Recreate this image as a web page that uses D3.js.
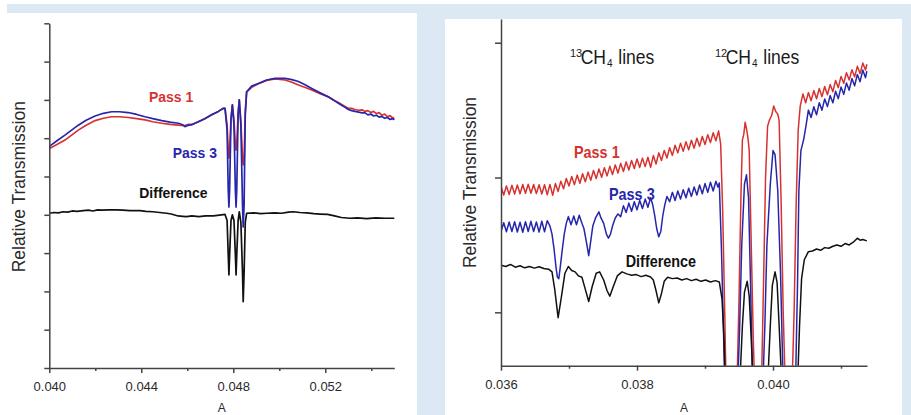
<!DOCTYPE html>
<html>
<head>
<meta charset="utf-8">
<script src="https://cdn.jsdelivr.net/npm/d3@7"></script>
<style>
body { margin: 0; background: #fff; }
svg { display: block; font-family: "Liberation Sans", Arial, sans-serif; }
</style>
</head>
<body>
<svg id="chart"></svg>
<script>
// ---------------- data (x = A, y = relative transmission, arbitrary units) ----------------
const pass1Left = [
  [0.04000, 5.73], [0.04003, 5.74], [0.04035, 5.84], [0.04068, 5.95], [0.04097, 6.08], [0.04126, 6.21],
  [0.04160, 6.34], [0.04199, 6.46], [0.04235, 6.52], [0.04271, 6.56], [0.04305, 6.56], [0.04343, 6.54],
  [0.04380, 6.51], [0.04416, 6.48], [0.04450, 6.43], [0.04489, 6.39], [0.04525, 6.36], [0.04561, 6.34],
  [0.04590, 6.33], [0.04605, 6.36], [0.04620, 6.35], [0.04648, 6.43], [0.04675, 6.50], [0.04706, 6.61],
  [0.04735, 6.70], [0.04757, 6.78], [0.04764, 6.78], [0.04773, 6.34], [0.04778, 5.69], [0.04781, 5.48],
  [0.04784, 5.69], [0.04790, 6.52], [0.04796, 6.87], [0.04803, 6.48], [0.04809, 5.82], [0.04812, 5.69],
  [0.04815, 5.82], [0.04821, 6.69], [0.04826, 7.00], [0.04833, 6.43], [0.04840, 5.48], [0.04843, 5.30],
  [0.04847, 5.48], [0.04852, 6.69], [0.04858, 7.21], [0.04880, 7.33], [0.04909, 7.42], [0.04945, 7.51],
  [0.04981, 7.55], [0.05025, 7.52], [0.05055, 7.46], [0.05083, 7.39], [0.05110, 7.33], [0.05141, 7.26],
  [0.05175, 7.17], [0.05213, 7.08], [0.05235, 7.00], [0.05257, 6.93], [0.05280, 6.85], [0.05300, 6.78],
  [0.05315, 6.78], [0.05329, 6.75], [0.05345, 6.73], [0.05360, 6.74], [0.05373, 6.70], [0.05385, 6.72],
  [0.05398, 6.67], [0.05410, 6.70], [0.05422, 6.64], [0.05434, 6.67], [0.05446, 6.60], [0.05458, 6.63],
  [0.05470, 6.56], [0.05482, 6.59], [0.05494, 6.52], [0.05500, 6.54]
];

const pass3Left = [
  [0.04000, 5.78], [0.04003, 5.80], [0.04035, 5.94], [0.04068, 6.08], [0.04097, 6.21], [0.04126, 6.34],
  [0.04160, 6.47], [0.04199, 6.58], [0.04235, 6.65], [0.04271, 6.69], [0.04305, 6.69], [0.04343, 6.67],
  [0.04380, 6.62], [0.04416, 6.56], [0.04450, 6.51], [0.04489, 6.46], [0.04525, 6.42], [0.04561, 6.39],
  [0.04580, 6.35], [0.04590, 6.30], [0.04600, 6.33], [0.04620, 6.36], [0.04648, 6.43], [0.04675, 6.51],
  [0.04706, 6.61], [0.04735, 6.70], [0.04757, 6.78], [0.04764, 6.78], [0.04773, 6.21], [0.04778, 4.65],
  [0.04781, 4.20], [0.04784, 4.65], [0.04790, 6.48], [0.04796, 6.87], [0.04803, 6.34], [0.04809, 4.65],
  [0.04812, 4.20], [0.04815, 4.65], [0.04821, 6.61], [0.04826, 7.00], [0.04833, 6.34], [0.04840, 4.26],
  [0.04843, 3.68], [0.04847, 4.26], [0.04852, 6.61], [0.04858, 7.21], [0.04880, 7.36], [0.04909, 7.43],
  [0.04945, 7.52], [0.04981, 7.56], [0.05025, 7.56], [0.05055, 7.53], [0.05083, 7.48], [0.05110, 7.40],
  [0.05141, 7.30], [0.05175, 7.19], [0.05213, 7.08], [0.05235, 7.00], [0.05257, 6.91], [0.05280, 6.83],
  [0.05300, 6.75], [0.05315, 6.72], [0.05329, 6.70], [0.05345, 6.68], [0.05360, 6.66], [0.05373, 6.66],
  [0.05385, 6.61], [0.05398, 6.63], [0.05410, 6.58], [0.05422, 6.60], [0.05434, 6.55], [0.05446, 6.57],
  [0.05458, 6.52], [0.05470, 6.54], [0.05482, 6.49], [0.05494, 6.51], [0.05500, 6.48]
];

const diffLeft = [
  [0.04000, 4.04], [0.04020, 4.06], [0.04040, 4.05], [0.04060, 4.08], [0.04080, 4.07], [0.04100, 4.10],
  [0.04120, 4.09], [0.04148, 4.11], [0.04170, 4.12], [0.04190, 4.10], [0.04210, 4.13], [0.04230, 4.12],
  [0.04260, 4.13], [0.04293, 4.13], [0.04320, 4.12], [0.04350, 4.11], [0.04394, 4.11], [0.04420, 4.09],
  [0.04450, 4.08], [0.04480, 4.06], [0.04510, 4.04], [0.04530, 4.02], [0.04560, 3.97], [0.04580, 3.96],
  [0.04597, 3.95], [0.04620, 3.97], [0.04650, 3.95], [0.04680, 3.97], [0.04713, 3.97], [0.04740, 3.99],
  [0.04764, 4.01], [0.04773, 3.85], [0.04778, 2.95], [0.04781, 2.43], [0.04784, 2.95], [0.04790, 3.85],
  [0.04796, 4.00], [0.04803, 3.85], [0.04809, 2.95], [0.04812, 2.43], [0.04815, 2.95], [0.04821, 3.85],
  [0.04826, 4.08], [0.04833, 3.80], [0.04840, 2.50], [0.04843, 1.73], [0.04847, 2.50], [0.04852, 3.80],
  [0.04858, 4.04], [0.04890, 4.05], [0.04920, 4.03], [0.04945, 4.04], [0.04980, 4.05], [0.05010, 4.04],
  [0.05040, 4.07], [0.05061, 4.08], [0.05090, 4.06], [0.05120, 4.05], [0.05150, 4.03], [0.05177, 4.02],
  [0.05210, 4.01], [0.05240, 3.97], [0.05270, 3.93], [0.05307, 3.91], [0.05340, 3.92], [0.05380, 3.90],
  [0.05420, 3.92], [0.05460, 3.91], [0.05500, 3.91]
];

const pass1Right = [
  [0.03600, 1.934], [0.03604, 1.870], [0.03608, 1.938], [0.03612, 1.874], [0.03616, 1.942], [0.03620, 1.878],
  [0.03624, 1.945], [0.03628, 1.880], [0.03632, 1.948], [0.03636, 1.883], [0.03640, 1.950], [0.03644, 1.883],
  [0.03648, 1.948], [0.03652, 1.881], [0.03656, 1.946], [0.03660, 1.878], [0.03664, 1.947], [0.03668, 1.872],
  [0.03672, 1.949], [0.03676, 1.868], [0.03680, 1.955], [0.03684, 1.897], [0.03688, 1.973], [0.03692, 1.917],
  [0.03696, 1.993], [0.03700, 1.937], [0.03704, 2.008], [0.03708, 1.947], [0.03712, 2.018], [0.03716, 1.957],
  [0.03720, 2.028], [0.03724, 1.968], [0.03728, 2.040], [0.03732, 1.980], [0.03736, 2.052], [0.03740, 1.992],
  [0.03744, 2.063], [0.03748, 2.002], [0.03752, 2.073], [0.03756, 2.012], [0.03760, 2.083], [0.03764, 2.023],
  [0.03768, 2.094], [0.03772, 2.034], [0.03776, 2.105], [0.03780, 2.045], [0.03784, 2.116], [0.03788, 2.056],
  [0.03792, 2.127], [0.03796, 2.067], [0.03800, 2.138], [0.03804, 2.075], [0.03808, 2.144], [0.03812, 2.081],
  [0.03816, 2.150], [0.03820, 2.075], [0.03824, 2.163], [0.03828, 2.100], [0.03832, 2.183], [0.03836, 2.126],
  [0.03840, 2.201], [0.03844, 2.145], [0.03848, 2.221], [0.03852, 2.164], [0.03856, 2.239], [0.03860, 2.183],
  [0.03864, 2.255], [0.03868, 2.194], [0.03872, 2.266], [0.03876, 2.205], [0.03880, 2.277], [0.03884, 2.218],
  [0.03888, 2.291], [0.03892, 2.231], [0.03896, 2.304], [0.03900, 2.245], [0.03904, 2.318], [0.03908, 2.259],
  [0.03912, 2.332], [0.03916, 2.273], [0.03920, 2.346], [0.03923, 2.250], [0.03926, 1.750], [0.03929, 1.000],
  [0.03931, 0.450], [0.03947, 0.450], [0.03950, 1.100], [0.03953, 1.900], [0.03955, 2.280], [0.03957, 2.320],
  [0.03959, 2.410], [0.03961, 2.360], [0.03963, 2.300], [0.03965, 2.200], [0.03968, 1.500], [0.03971, 0.800],
  [0.03973, 0.450], [0.03983, 0.450], [0.03986, 1.200], [0.03989, 2.000], [0.03992, 2.380], [0.03995, 2.430],
  [0.03998, 2.460], [0.04001, 2.530], [0.04004, 2.490], [0.04007, 2.470], [0.04009, 2.420], [0.04012, 1.800],
  [0.04015, 1.000], [0.04018, 0.450], [0.04028, 0.450], [0.04031, 1.000], [0.04034, 1.800], [0.04037, 2.350],
  [0.04040, 2.530], [0.04044, 2.620], [0.04048, 2.555], [0.04052, 2.630], [0.04056, 2.570], [0.04060, 2.645],
  [0.04064, 2.584], [0.04068, 2.660], [0.04072, 2.600], [0.04076, 2.675], [0.04080, 2.614], [0.04084, 2.690],
  [0.04088, 2.637], [0.04092, 2.720], [0.04096, 2.667], [0.04100, 2.750], [0.04104, 2.699], [0.04108, 2.778],
  [0.04112, 2.724], [0.04116, 2.800], [0.04120, 2.747], [0.04124, 2.825], [0.04128, 2.771], [0.04132, 2.849],
  [0.04136, 2.797], [0.04138, 2.840]
];

const pass3Right = [
  [0.03600, 1.600], [0.03604, 1.665], [0.03608, 1.598], [0.03612, 1.670], [0.03616, 1.600], [0.03620, 1.672],
  [0.03624, 1.596], [0.03628, 1.668], [0.03632, 1.594], [0.03636, 1.672], [0.03640, 1.600], [0.03644, 1.675],
  [0.03648, 1.600], [0.03652, 1.670], [0.03656, 1.595], [0.03660, 1.676], [0.03664, 1.598], [0.03668, 1.680],
  [0.03672, 1.640], [0.03675, 1.580], [0.03678, 1.470], [0.03681, 1.330], [0.03683, 1.260], [0.03685, 1.250],
  [0.03687, 1.330], [0.03690, 1.460], [0.03693, 1.580], [0.03696, 1.660], [0.03699, 1.710], [0.03703, 1.650],
  [0.03707, 1.715], [0.03711, 1.650], [0.03715, 1.720], [0.03719, 1.660], [0.03722, 1.620], [0.03726, 1.510],
  [0.03729, 1.420], [0.03732, 1.530], [0.03735, 1.640], [0.03739, 1.700], [0.03744, 1.745], [0.03747, 1.700],
  [0.03751, 1.660], [0.03755, 1.580], [0.03758, 1.550], [0.03761, 1.580], [0.03764, 1.640], [0.03768, 1.700],
  [0.03772, 1.730], [0.03776, 1.710], [0.03780, 1.790], [0.03784, 1.740], [0.03788, 1.810], [0.03792, 1.750],
  [0.03796, 1.820], [0.03800, 1.760], [0.03804, 1.830], [0.03808, 1.770], [0.03812, 1.840], [0.03816, 1.780],
  [0.03820, 1.850], [0.03823, 1.800], [0.03826, 1.720], [0.03829, 1.620], [0.03832, 1.560], [0.03835, 1.600],
  [0.03838, 1.720], [0.03841, 1.800], [0.03844, 1.860], [0.03848, 1.820], [0.03852, 1.890], [0.03856, 1.830],
  [0.03860, 1.900], [0.03864, 1.840], [0.03868, 1.910], [0.03872, 1.850], [0.03876, 1.920], [0.03880, 1.860],
  [0.03884, 1.930], [0.03888, 1.870], [0.03892, 1.945], [0.03896, 1.880], [0.03900, 1.955], [0.03904, 1.890],
  [0.03908, 1.965], [0.03912, 1.900], [0.03916, 1.972], [0.03919, 1.930], [0.03921, 1.960], [0.03924, 1.500],
  [0.03927, 0.900], [0.03929, 0.450], [0.03948, 0.450], [0.03951, 0.900], [0.03954, 1.500], [0.03958, 1.950],
  [0.03961, 2.020], [0.03964, 1.850], [0.03967, 1.200], [0.03970, 0.450], [0.03985, 0.450], [0.03988, 0.900],
  [0.03991, 1.500], [0.03996, 1.950], [0.04000, 2.200], [0.04003, 2.170], [0.04007, 1.900], [0.04011, 1.300],
  [0.04015, 0.450], [0.04033, 0.450], [0.04036, 1.200], [0.04038, 1.900], [0.04041, 2.200], [0.04045, 2.280],
  [0.04049, 2.400], [0.04052, 2.500], [0.04056, 2.445], [0.04060, 2.525], [0.04064, 2.465], [0.04068, 2.555],
  [0.04072, 2.500], [0.04076, 2.583], [0.04080, 2.526], [0.04084, 2.608], [0.04088, 2.554], [0.04092, 2.640],
  [0.04096, 2.585], [0.04100, 2.671], [0.04104, 2.617], [0.04108, 2.702], [0.04112, 2.648], [0.04116, 2.734],
  [0.04120, 2.680], [0.04124, 2.765], [0.04128, 2.711], [0.04132, 2.797], [0.04136, 2.741], [0.04138, 2.790]
];

const diffRight = [
  [0.03600, 1.350], [0.03607, 1.340], [0.03614, 1.355], [0.03621, 1.335], [0.03628, 1.345], [0.03635, 1.330],
  [0.03642, 1.340], [0.03649, 1.328], [0.03656, 1.338], [0.03663, 1.325], [0.03670, 1.320], [0.03675, 1.300],
  [0.03679, 1.170], [0.03684, 0.960], [0.03689, 1.120], [0.03694, 1.290], [0.03699, 1.340], [0.03704, 1.310],
  [0.03709, 1.300], [0.03714, 1.270], [0.03719, 1.260], [0.03724, 1.170], [0.03729, 1.080], [0.03734, 1.190],
  [0.03740, 1.290], [0.03745, 1.300], [0.03751, 1.240], [0.03756, 1.160], [0.03760, 1.120], [0.03765, 1.190],
  [0.03771, 1.270], [0.03778, 1.300], [0.03785, 1.285], [0.03792, 1.275], [0.03799, 1.280], [0.03806, 1.265],
  [0.03813, 1.275], [0.03820, 1.262], [0.03824, 1.240], [0.03828, 1.160], [0.03832, 1.070], [0.03836, 1.140],
  [0.03840, 1.230], [0.03845, 1.260], [0.03852, 1.250], [0.03859, 1.255], [0.03866, 1.240], [0.03873, 1.250],
  [0.03880, 1.235], [0.03887, 1.245], [0.03894, 1.230], [0.03901, 1.240], [0.03908, 1.225], [0.03915, 1.235],
  [0.03921, 1.225], [0.03925, 1.100], [0.03928, 0.800], [0.03930, 0.450], [0.03951, 0.450], [0.03955, 0.900],
  [0.03958, 1.150], [0.03962, 1.230], [0.03965, 1.120], [0.03968, 0.800], [0.03971, 0.450], [0.03992, 0.450],
  [0.03996, 0.900], [0.03999, 1.200], [0.04003, 1.300], [0.04006, 1.220], [0.04009, 0.900], [0.04013, 0.450],
  [0.04036, 0.450], [0.04039, 0.900], [0.04042, 1.250], [0.04046, 1.390], [0.04052, 1.450], [0.04058, 1.455],
  [0.04064, 1.470], [0.04070, 1.460], [0.04076, 1.480], [0.04082, 1.475], [0.04088, 1.490], [0.04094, 1.500],
  [0.04100, 1.490], [0.04106, 1.510], [0.04112, 1.500], [0.04118, 1.520], [0.04124, 1.550], [0.04128, 1.535],
  [0.04132, 1.540], [0.04138, 1.530]
];

const xMajorLeft = [0.040, 0.044, 0.048, 0.052];
const xMinorLeft = [0.042, 0.046, 0.050, 0.054];
const yTicksLeft = [0, 1, 2, 3, 4, 5, 6, 7, 8, 9];
const xMajorRight = [0.036, 0.038, 0.040];
const xMinorRight = [0.037, 0.039, 0.041];
const yTicksRight = [1, 2, 3];

const RED = "#d6322f", BLUE = "#2626ad", BLACK = "#111";

// ---------------- svg ----------------
const W = 911, H = 415;
const svg = d3.select("#chart").attr("width", W).attr("height", H);

// light blue frame with two white cards
svg.append("rect").attr("x", 7).attr("y", 4).attr("width", W - 7).attr("height", H - 4).attr("fill", "#dde8f5");
svg.append("rect").attr("x", 7).attr("y", 13).attr("width", 410).attr("height", H - 13).attr("fill", "#fff");
svg.append("rect").attr("x", 445).attr("y", 19).attr("width", 457).attr("height", H - 19).attr("fill", "#fff");

function drawPanel(p) {
  const x = d3.scaleLinear().domain(p.xDomain).range(p.xRange);
  const y = d3.scaleLinear().domain(p.yDomain).range(p.yRange);

  svg.append("clipPath").attr("id", p.id)
    .append("rect")
    .attr("x", p.xRange[0]).attr("y", p.yRange[1] - 4)
    .attr("width", p.xRange[1] - p.xRange[0] + 3)
    .attr("height", p.yRange[0] - p.yRange[1] + 4);

  const line = d3.line().x(d => x(d[0])).y(d => y(d[1]));

  const lines = svg.append("g").attr("clip-path", `url(#${p.id})`);
  for (let s of p.series) {
    lines.append("path")
      .datum(s.data)
      .attr("d", line)
      .attr("fill", "none")
      .attr("stroke", s.color)
      .attr("stroke-width", p.lineWidth)
      .attr("stroke-linejoin", "round");
  }

  // axes
  const xAxis = svg.append("g")
    .attr("transform", `translate(0,${p.yRange[0]})`)
    .call(d3.axisBottom(x).tickValues(p.xMajor).tickSize(5).tickSizeOuter(0)
      .tickPadding(p.tickPad).tickFormat(d3.format(".3f")));
  svg.append("g")
    .attr("transform", `translate(0,${p.yRange[0]})`)
    .call(d3.axisBottom(x).tickValues(p.xMinor).tickSize(3).tickSizeOuter(0).tickFormat(""))
    .call(g => g.select(".domain").remove());
  svg.append("g")
    .attr("transform", `translate(${p.xRange[0]},0)`)
    .call(d3.axisLeft(y).tickValues(p.yTicks).tickSize(p.yTickLen).tickSizeOuter(0).tickFormat(""));

  svg.selectAll(".domain, .tick line").attr("stroke", "#444").attr("stroke-width", 1.5);
  xAxis.selectAll("text")
    .attr("fill", "#2a2a2a")
    .style("font-size", "13px")
    .style("font-family", '"Liberation Sans", Arial, sans-serif');

  // axis titles ("A" sits at the very bottom edge, as in the reference)
  svg.append("text")
    .attr("x", (p.xRange[0] + p.xRange[1]) / 2).attr("y", 411.5)
    .attr("text-anchor", "middle").attr("fill", "#2a2a2a")
    .style("font-size", "12px")
    .text("A");
  svg.append("text")
    .attr("transform", `translate(${p.yTitle[0]},${p.yTitle[1]}) rotate(-90)`)
    .attr("text-anchor", "middle").attr("fill", "#2a2a2a")
    .style("font-size", "17.5px")
    .text("Relative Transmission");

  // series labels
  for (let l of p.labels) {
    svg.append("text")
      .attr("transform", `translate(${l.x},${l.y}) scale(0.9,1)`)
      .attr("fill", l.color)
      .style("font-size", p.labelSize + "px")
      .style("font-weight", "bold")
      .text(l.text);
  }
}

drawPanel({
  id: "clipLeft",
  xDomain: [0.040, 0.055], xRange: [49.3, 394.3],
  yDomain: [0, 9], yRange: [368, 23.3],
  xMajor: xMajorLeft, xMinor: xMinorLeft, yTicks: yTicksLeft, yTickLen: 5, tickPad: 8.5,
  yTitle: [25, 186.7], lineWidth: 1.7,
  series: [
    {data: pass1Left, color: RED},
    {data: pass3Left, color: BLUE},
    {data: diffLeft, color: BLACK}
  ],
  labelSize: 15.5,
  labels: [
    {text: "Pass 1", x: 149, y: 101.7, color: RED},
    {text: "Pass 3", x: 172.7, y: 157.7, color: BLUE},
    {text: "Difference", x: 139.3, y: 198.3, color: BLACK}
  ]
});

drawPanel({
  id: "clipRight",
  xDomain: [0.036, 0.041382], xRange: [501, 867],
  yDomain: [0.604, 3.176], yRange: [365.7, 19],
  xMajor: xMajorRight, xMinor: xMinorRight, yTicks: yTicksRight, yTickLen: 6, tickPad: 9.5,
  yTitle: [475.5, 182.5], lineWidth: 1.5,
  series: [
    {data: pass1Right, color: RED},
    {data: pass3Right, color: BLUE},
    {data: diffRight, color: BLACK}
  ],
  labelSize: 16,
  labels: [
    {text: "Pass 1", x: 574, y: 158.3, color: RED},
    {text: "Pass 3", x: 609, y: 200, color: BLUE},
    {text: "Difference", x: 625.7, y: 266.7, color: BLACK}
  ]
});

// isotope labels
function isoLabel(x0, mass) {
  const g = svg.append("g").attr("fill", "#1a1a1a");
  g.append("text").attr("x", x0).attr("y", 56.7).style("font-size", "11px").text(mass);
  g.append("text").attr("transform", `translate(${x0 + 10.7},63.5) scale(0.9,1)`).style("font-size", "19.5px").text("CH");
  g.append("text").attr("x", x0 + 37).attr("y", 67).style("font-size", "10px").text("4");
  g.append("text").attr("transform", `translate(${x0 + 48.3},63.5) scale(0.9,1)`).style("font-size", "19.5px").text("lines");
}
isoLabel(570, "13");
isoLabel(715, "12");
</script>
</body>
</html>
